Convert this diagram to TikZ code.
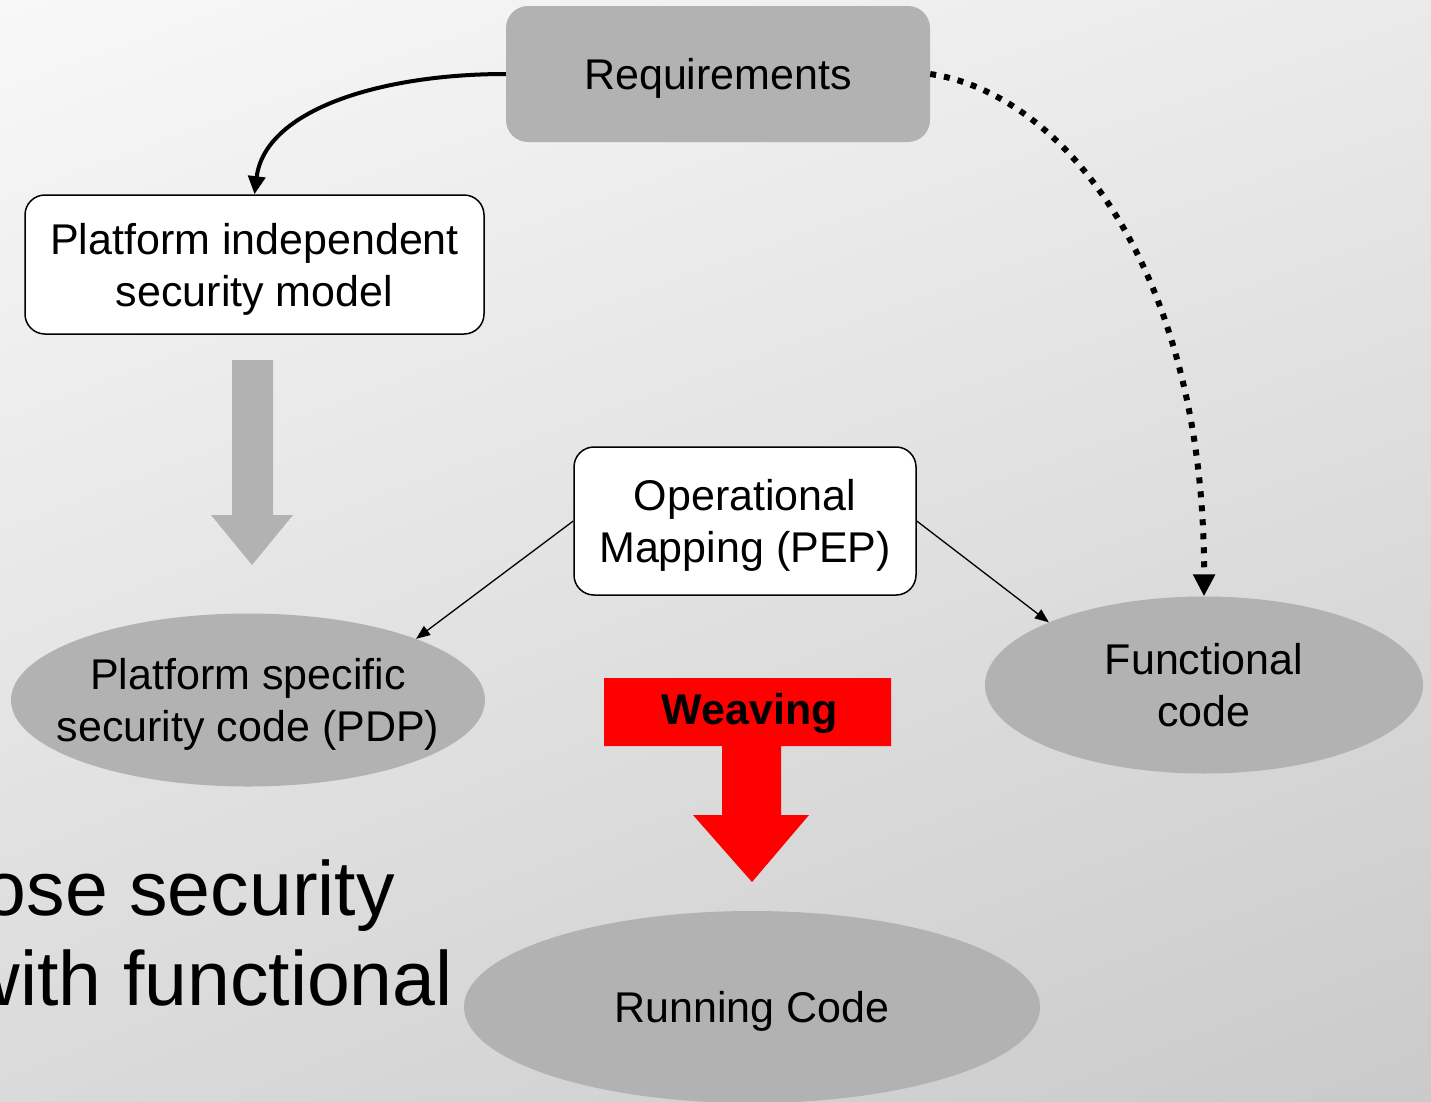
\documentclass[tikz,border=0pt]{standalone}
\usepackage{fontspec}
\setmainfont{Liberation Sans}
\usetikzlibrary{shapes.geometric,arrows.meta,shadings}
\definecolor{boxgray}{HTML}{B2B2B2}
\definecolor{weavered}{HTML}{FF0000}
\definecolor{bgtl}{HTML}{F8F8F8}
\definecolor{bgtr}{HTML}{EAEAEA}
\definecolor{bgbl}{HTML}{DADADA}
\definecolor{bgbr}{HTML}{CACACA}

\begin{document}
\begin{tikzpicture}[x=1pt,y=-1pt,
  lbl/.style={font=\fontsize{43}{52}\selectfont, align=center, text=black, text depth=0pt},
  graybox/.style={lbl, rectangle, rounded corners=22pt, fill=boxgray},
  whitebox/.style={lbl, rectangle, rounded corners=20pt, fill=white, draw=black, line width=1.5pt},
  grayoval/.style={lbl, ellipse, fill=boxgray, inner xsep=-40pt, inner ysep=-25pt},
  bigtext/.style={font=\fontsize{77}{90}\selectfont, text=black, inner sep=0pt, anchor=base east},
  thinarrow/.style={line width=1.3pt, -{Triangle[length=14pt,width=11pt]}},
  solidcurve/.style={line width=4pt, -{Triangle[length=18pt,width=17pt]}},
  dotcurve/.style={line width=6pt, dash pattern=on 6pt off 8pt, -{Triangle[length=22pt,width=21pt]}},
]
% page frame and soft diagonal background
\useasboundingbox (0,0) rectangle (1431,1101);
\clip (0,0) rectangle (1431,1101);
\shade[upper left=bgtl, upper right=bgtr, lower left=bgbl, lower right=bgbr]
  (0,0) rectangle (1431,1101);

% slide text running off the left edge
\node[bigtext] (line1) at (395,915) {ose security};
\node[bigtext] (line2) at (453,1005) {with functional};

% boxes and ovals
\node[graybox, minimum width=424pt, minimum height=136pt] (req) at (718,74) {Requirements};
\node[whitebox, minimum width=459pt, minimum height=139pt] (pim) at (254.5,264.5)
  {Platform independent\\security model};
\node[whitebox, minimum width=342pt, minimum height=148pt] (om) at (745,521)
  {Operational\\Mapping (PEP)};
\node[grayoval, minimum width=474pt, minimum height=173pt] (pdp) at (248,700)
  {Platform specific\\security code (PDP)};
\node[grayoval, minimum width=438pt, minimum height=177pt] (fc) at (1204,685)
  {Functional\\code};
\node[grayoval, minimum width=576pt, minimum height=192pt] (run) at (752,1007)
  {Running Code};

% grey transformation arrow
\fill[boxgray] (232,360) -- (273,360) -- (273,515) -- (293,515) -- (252,565)
  -- (211,515) -- (232,515) -- cycle;

% red weaving arrow
\fill[weavered] (604,678) -- (891,678) -- (891,746) -- (781,746) -- (781,815)
  -- (809,815) -- (752,882) -- (693,815) -- (722,815) -- (722,746)
  -- (604,746) -- cycle;
\node[font=\fontsize{43}{52}\selectfont\bfseries, text=black, text depth=0pt] (weave) at (750,709) {Weaving};

% connectors
\draw[solidcurve] (req.west) .. controls (380,74) and (265,110) .. (pim.north);
\draw[dotcurve] (req.east) .. controls (1070,95) and (1205,280) .. (fc.north);
\draw[thinarrow] (om.west) -- (pdp.20);
\draw[thinarrow] (om.east) -- (fc.158);
\end{tikzpicture}
\end{document}
